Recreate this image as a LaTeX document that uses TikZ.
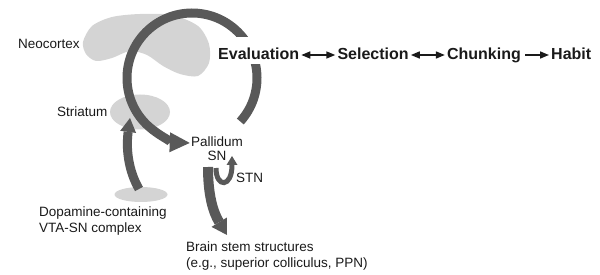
\documentclass[tikz,border=0pt]{standalone}
\usepackage{fontspec}
\setmainfont{Liberation Sans}
\usepackage{xcolor}
\definecolor{cBlob}{HTML}{D4D4D4}
\definecolor{cPath}{HTML}{595959}
\definecolor{cText}{HTML}{1A1A1A}
\usetikzlibrary{positioning,arrows.meta,shapes.geometric,calc}
\tikzset{
  lbl/.style={inner sep=0pt,align=left,text=cText,
    font=\fontsize{13.5}{16}\selectfont},
  stage/.style={inner sep=0pt,text=cText,
    font=\fontsize{16}{19}\selectfont\bfseries},
  region/.style={ellipse,fill=cBlob,draw=none,inner sep=0pt},
  flow-both/.style={line width=1.6pt,draw=cText,
    {Triangle[length=9pt,width=7pt]}-{Triangle[length=9pt,width=7pt]}},
  flow-one/.style={line width=1.6pt,draw=cText,
    -{Triangle[length=9pt,width=7pt]}},
  pathway/.style={draw=cPath,line width=9pt,
    -{Triangle[length=20pt,width=20pt,line width=0pt]}},
  pathway-thin/.style={draw=cPath,line width=5pt,
    -{Triangle[length=9pt,width=11pt,line width=0pt]}},
}

\begin{document}
\begin{tikzpicture}[x=1pt,y=1pt]
  \useasboundingbox (0,0) rectangle (600,-275);

  % cortex blob and the two nuclei
  \fill[cBlob] plot[smooth cycle] coordinates {(83,-42) (92,-26) (112,-17)
    (140,-14) (172,-15) (198,-26) (209,-44) (209,-63) (198,-76) (180,-74)
    (163,-66) (147,-55) (130,-51) (112,-58) (96,-61) (86,-54)};
  \node[region,minimum width=60pt,minimum height=35pt] (str) at (140,-112) {};
  \node[region,minimum width=53pt,minimum height=15pt] (vta) at (141,-194.5) {};

  % loop
  \coordinate (ctr) at (192,-78);
  \coordinate (loopstart) at ($(ctr)+(-42:65)$);
  \draw[pathway] (loopstart) arc[start angle=-42,end angle=268,radius=65];

  % dopamine input, outputs
  \coordinate (vtaTop) at (139,-189);
  \coordinate (strIn) at (130,-118);
  \draw[pathway,-{Triangle[length=14pt,width=16pt,line width=0pt]}]
    (vtaTop) .. controls (128,-170) and (126,-148) .. (strIn);
  \coordinate (snOut) at (208,-167);
  \coordinate (stemIn) at (227,-235);
  \draw[pathway,line width=10pt,-{Triangle[length=15pt,width=18pt,line width=0pt]}]
    (snOut) .. controls (208,-195) and (213,-212) .. (stemIn);
  \coordinate (stnOut) at (216,-168);
  \coordinate (stnIn) at (232,-156);
  \draw[pathway-thin] (stnOut) .. controls (216,-188) and (232,-188) .. (stnIn);

  % labels
  \node[lbl,anchor=base west] (neo) at (18,-49) {Neocortex};
  \node[lbl,anchor=base west] (strlbl) at (57,-117) {Striatum};
  \node[lbl,anchor=base] (pal) at (217,-147) {Pallidum};
  \node[lbl,below=4pt of pal] (sn) {SN};
  \node[lbl,anchor=base west] (stn) at (236,-183) {STN};
  \node[lbl,anchor=north west] (dopa) at (39,-207)
    {Dopamine-containing\\VTA-SN complex};
  \node[lbl,anchor=north west] (stem) at (186,-242)
    {Brain stem structures\\(e.g., superior colliculus, PPN)};

  % stages
  \node[stage,fill=white,text height=23pt,text depth=4pt,anchor=base west]
    (eval) at (218,-60) {Evaluation};
  \node[stage,base right=38pt of eval] (sel) {Selection};
  \node[stage,base right=38pt of sel] (chunk) {Chunking};
  \node[stage,base right=30pt of chunk] (habit) {Habit};
  \draw[flow-both] ($(eval.base east)+(2,5)$) -- ($(sel.base west)+(-2,5)$);
  \draw[flow-both] ($(sel.base east)+(2,5)$) -- ($(chunk.base west)+(-2,5)$);
  \draw[flow-one] ($(chunk.base east)+(4,5)$) -- ($(habit.base west)+(-2,5)$);
\end{tikzpicture}
\end{document}
